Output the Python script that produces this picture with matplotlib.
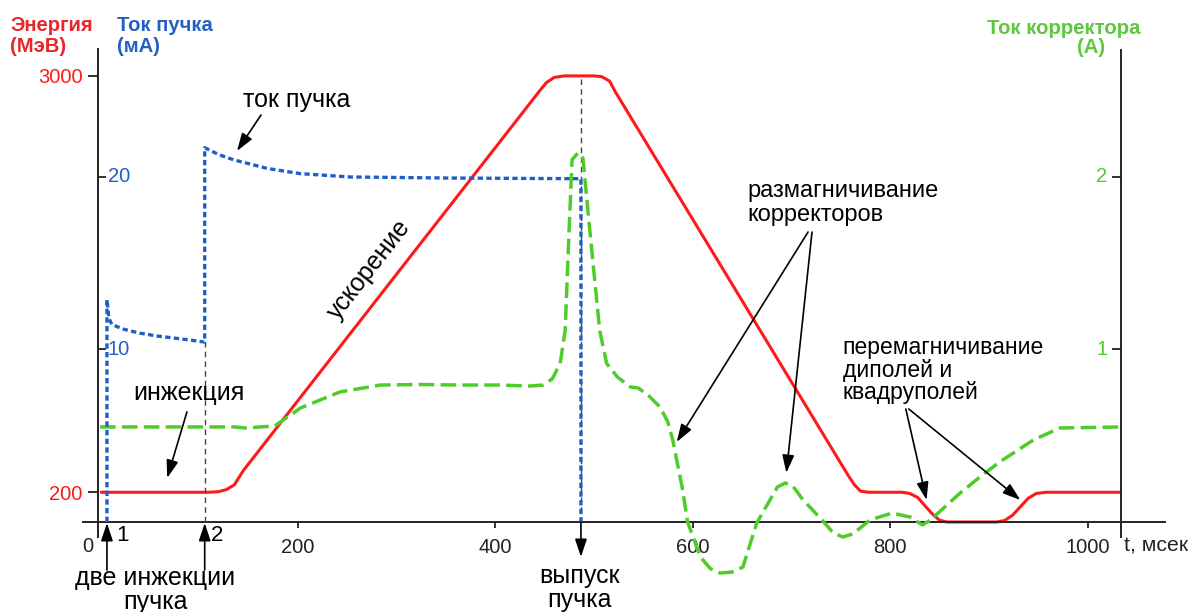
import matplotlib
matplotlib.use('Agg')
import matplotlib.pyplot as plt

plt.rcParams['font.family'] = ['Liberation Sans', 'DejaVu Sans']

# energy, MeV
t_energy = [0, 110, 120, 128, 136, 145, 445, 452, 460, 470, 500, 508, 516, 522,
            758, 764, 770, 778, 812, 820, 828, 842, 850, 858, 908, 916, 924, 940,
            948, 958, 1034]
energy = [200, 200, 204, 218, 250, 345, 2898, 2955, 2990, 3000, 3000, 2995, 2965, 2891,
          309, 250, 208, 200, 200, 192, 165, 60, 12, 0, 0, 10, 45, 160,
          192, 200, 200]

# beam current, mA
t_beam = [7, 7, 9, 12, 23, 40, 58, 91, 106, 106, 120, 135, 169, 202, 253, 352, 487, 487]
beam = [0, 12.9, 11.8, 11.45, 11.19, 10.95, 10.78, 10.55, 10.43, 21.7, 21.3, 21.0,
        20.5, 20.2, 20.0, 19.94, 19.9, 0]

# corrector current, A
t_corr = [0, 137, 147, 177, 203, 243, 284, 324, 365, 405, 435, 449, 458, 466, 471,
          475, 478, 484, 489, 496, 506, 513, 524, 537, 545, 556, 567, 575, 580, 585,
          590, 595, 608, 618, 628, 640, 651, 665, 686, 694, 702, 712, 731, 742, 752,
          762, 780, 802, 820, 833, 841, 871, 891, 911, 945, 972, 1034]
corr = [0.551, 0.551, 0.545, 0.557, 0.661, 0.754, 0.794, 0.797, 0.794, 0.794, 0.788,
        0.794, 0.83, 0.92, 1.11, 1.69, 2.10, 2.14, 2.11, 1.69, 1.11, 0.92, 0.84, 0.783,
        0.777, 0.73, 0.667, 0.58, 0.475, 0.33, 0.186, 0.0, -0.203, -0.27, -0.296, -0.29,
        -0.261, -0.006, 0.203, 0.226, 0.205, 0.128, 0.012, -0.06, -0.087, -0.07, 0.012,
        0.052, 0.029, -0.017, 0.012, 0.168, 0.261, 0.348, 0.475, 0.545, 0.551]

t_ticks = [200, 400, 600, 800, 1000]
energy_ticks = [200, 3000]
beam_ticks = [10, 20]
corr_ticks = [1, 2]

RED = '#ff1a1a'
BLUE = '#1f5fc8'
GREEN = '#4fcc2a'
AXC = '#222222'

fig = plt.figure(figsize=(11.92, 6.12), dpi=100)
ax = fig.add_axes([0, 0, 1, 1])
ax.set_xlim(-101.3, 1105.8)
ax.set_ylim(-605.2, 3510.4)
ax_c = ax.twinx()
ax_c.set_ylim(-0.5217, 3.026)
ax_b = ax.twinx()
ax_b.set_ylim(-5.217, 30.26)

# axes lines
for s in ['top', 'right']:
    ax.spines[s].set_visible(False)
ax.spines['left'].set_position(('data', -2))
ax.spines['left'].set_bounds(-101, 3181)
ax.spines['bottom'].set_position(('data', 0))
ax.spines['bottom'].set_bounds(-17, 1078)
for s in ['left', 'bottom']:
    ax.spines[s].set_linewidth(1.4)
    ax.spines[s].set_color(AXC)

ax.set_xticks(t_ticks)
ax.tick_params(axis='x', direction='out', length=4.5, width=1.3, color=AXC,
               labelsize=14.5, labelcolor=AXC, pad=7)
ax.set_yticks(energy_ticks)
ax.tick_params(axis='y', direction='out', length=7, width=1.3, color=AXC,
               labelsize=14.5, labelcolor=RED, pad=4)

for s in ['top', 'right', 'bottom', 'left']:
    ax_b.spines[s].set_visible(False)
ax_b.spines['left'].set_position(('data', -2))
ax_b.yaxis.set_ticks_position('left')
ax_b.set_yticks(beam_ticks)
ax_b.tick_params(axis='y', direction='in', length=5.8, width=1.3, color=AXC,
                 labelleft=False)
for v in beam_ticks:
    ax_b.text(8, v, str(v), color=BLUE, fontsize=14.5, ha='left', va='center')

for s in ['top', 'left', 'bottom']:
    ax_c.spines[s].set_visible(False)
ax_c.spines['right'].set_position(('data', 1034))
ax_c.spines['right'].set_bounds(-0.087, 2.736)
ax_c.spines['right'].set_linewidth(1.4)
ax_c.spines['right'].set_color(AXC)
ax_c.set_yticks(corr_ticks)
ax_c.tick_params(axis='y', direction='in', length=6.5, width=1.3, color=AXC,
                 labelright=False)
for v in corr_ticks:
    ax_c.text(1020, v, str(v), color=GREEN, fontsize=14.5, ha='right', va='center')

# curves
ax.plot(t_energy, energy, color=RED, lw=2.2, solid_capstyle='butt')
ax_c.plot(t_corr, corr, color=GREEN, lw=2.5, dashes=(4.5, 1.8))
ax_b.plot(t_beam, beam, color=BLUE, lw=2.4, dashes=(1.6, 1.0))

# helper dashed lines
ax_b.plot([106, 106], [0, 10.43], color='#444444', lw=1.0, dashes=(4, 3))
ax.plot([487, 487], [0, 3000], color='#444444', lw=1.0, dashes=(4, 3))

# axis titles
ttl = dict(fontsize=14.6, fontweight='bold', va='center')
ax.text(-91, 3268, 'Энергия\n(МэВ)', color='#e8262b', ha='left',
        linespacing=1.1, **ttl)
ax.text(17, 3268, 'Ток пучка\n(мА)', color='#2460c4', ha='left',
        linespacing=1.1, **ttl)
ax.text(1054, 3322, 'Ток корректора', color='#5cc83c', ha='right', **ttl)
ax.text(1018, 3188, '(А)', color='#5cc83c', ha='right', **ttl)

ax.text(-12, -162, '0', fontsize=14.5, color=AXC, ha='center', va='center')
ax.text(1037, -162, 't, мсек', fontsize=15.3, color=AXC, ha='left', va='center')

# annotations
arrow = dict(arrowstyle='-|>,head_length=0.6,head_width=0.2', color='black',
             lw=1.2, mutation_scale=18, shrinkA=0, shrinkB=0)
fs = 18


def note(tail, head):
    ax_b.annotate('', xy=head, xytext=tail, xycoords=ax.transData,
                  textcoords=ax.transData, arrowprops=arrow)


ax_b.text(199.5, 2838, 'ток пучка', transform=ax.transData, fontsize=fs,
          ha='center', va='center')
note((163, 2737), (138.7, 2495))

ax_b.text(273, 1695, 'ускорение', transform=ax.transData, fontsize=fs,
          ha='center', va='center', rotation=52, rotation_mode='anchor')

ax_b.text(90, 867, 'инжекция', transform=ax.transData, fontsize=fs,
          ha='center', va='center')
note((88, 740), (68, 296))

ax_b.text(656, 2145, 'размагничивание\nкорректоров', transform=ax.transData,
          fontsize=17, ha='left', va='center', linespacing=1.1)
note((717, 1950), (584, 538))
note((721, 1950), (695, 330))

ax_b.text(752, 1022, 'перемагничивание\nдиполей и\nквадруполей',
          transform=ax.transData, fontsize=16.5, ha='left', va='center',
          linespacing=0.98)
note((816, 760), (837, 148))
note((819, 760), (932, 148))

note((7, -323), (7, -7))
note((106, -323), (106, -7))
ax_b.text(16, -94, '1', transform=ax.transData, fontsize=16, ha='left', va='center')
ax_b.text(112, -94, '2', transform=ax.transData, fontsize=16, ha='left', va='center')
ax_b.text(56, -457, 'две инжекции\nпучка', transform=ax.transData, fontsize=fs,
          ha='center', va='center', linespacing=0.98)

note((487, 0), (487, -235))
ax_b.text(486, -444, 'выпуск\nпучка', transform=ax.transData, fontsize=fs,
          ha='center', va='center', linespacing=0.98)

fig.savefig('out.png', dpi=100, facecolor='white')
